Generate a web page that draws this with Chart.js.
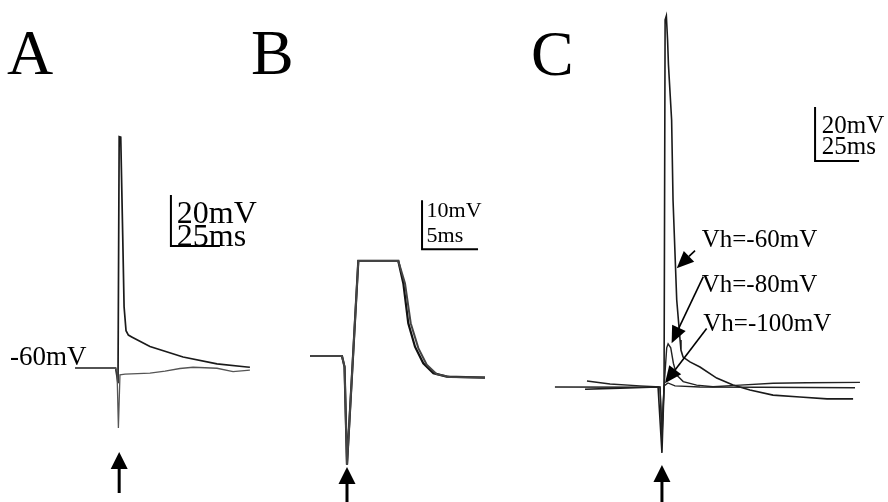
<!DOCTYPE html>
<html>
<head>
<meta charset="utf-8">
<title>Evoked responses</title>
<script src="https://cdn.jsdelivr.net/npm/chart.js@4.4.1/dist/chart.umd.min.js"></script>
<style>
  body { margin: 0; background: #fff; }
  #wrap { width: 888px; height: 502px; }
</style>
</head>
<body>
<div id="wrap"><canvas id="traces" width="888" height="502"></canvas></div>
<script>
// Panel A: holding -60 mV, one sweep with a spike, one without (time ms, voltage mV)
const aSpikeT = [-21.9, -1.2, -0.6, 0.0, 0.6, 1.4, 2.4, 3.1, 4.1, 5.3, 7.0, 16.3, 33.2, 50.5, 65.8, 67.3];
const aSpikeV = [-60, -60, -63, -66, 30.7, 30.5, -7.8, -36.0, -45.4, -47.1, -47.8, -51.6, -55.7, -58.4, -59.6, -59.7];
const aFailT = [-21.9, -1.5, -0.5, 0.2, 1.0, 3.6, 16.3, 24.0, 31.6, 38.3, 50.5, 58.7, 67.3];
const aFailV = [-60, -60, -61, -83.5, -62.7, -62.4, -62.0, -61.2, -60.2, -59.7, -60.1, -61.4, -60.8];

// Panel B: two superimposed sweeps, fast time base
const bFirstT = [-3.30, -0.45, -0.22, 0.0, 1.01, 4.58, 5.03, 5.47, 6.07, 6.81, 7.71, 8.90, 12.32];
const bFirstV = [-60, -60, -62.2, -82.2, -40.6, -40.6, -45.2, -53.3, -58.1, -61.5, -63.5, -64.2, -64.4];
const bSecondT = [-3.30, -0.45, -0.22, 0.0, 1.01, 4.58, 5.18, 5.69, 6.37, 7.12, 8.01, 9.20, 12.32];
const bSecondV = [-60, -60, -62.2, -82.2, -40.6, -40.6, -45.2, -53.3, -58.4, -61.8, -63.7, -64.3, -64.4];

// Panel C: change from holding potential at three Vh values
const c60T = [-44.3, -24.4, -2.8, -0.6, 0.6, 1.2, 1.9, 2.6, 3.1, 4.9, 5.7, 7.8, 9.7, 10.2, 11.4, 15.3, 21.0, 30.5, 39.8, 49.4, 62.5, 77.8, 93.2, 108.0];
const c60V = [-0.85, -0.4, 0, -24.4, 0, 136.0, 137.5, 128.5, 119.3, 98.9, 69.3, 32.2, 17.4, 13.7, 11.1, 9.3, 7.4, 3.3, 0.7, -1.1, -3.0, -3.7, -4.4, -4.4];
const c80T = [-43.2, -30.1, -13.1, -1.7, -0.6, 0.6, 2.1, 2.9, 4.4, 5.9, 7.8, 11.5, 19.1, 28.4, 43.8, 62.5, 81.6, 111.9];
const c80V = [2.2, 1.1, 0.4, 0, -19.6, 0, 14.5, 16.0, 14.5, 8.8, 4.4, 2.0, 0.7, 0.1, 0.7, 1.4, 1.6, 1.7];
const c100T = [-61.4, -1.7, -0.6, 0.6, 2.8, 6.8, 21.0, 55.1, 109.1];
const c100V = [0, -0.1, -15.9, 0.4, 1.5, 0.4, 0, -0.1, -0.3];

const cLabels = ['Vh=-60mV', 'Vh=-80mV', 'Vh=-100mV'];

function pts(ts, vs) {
  return ts.map((t, i) => ({ x: t, y: vs[i] }));
}

// place a hidden axis so that `value` lands on pixel `px` with `ppu` pixels per unit
function xFrame(px, value, ppu) {
  const min = value - px / ppu;
  return { type: 'linear', display: false, min: min, max: min + 888 / ppu };
}
function yFrame(px, value, ppu) {
  const max = value + px / ppu;
  return { type: 'linear', display: false, min: max - 502 / ppu, max: max };
}

function trace(data, x, y, color, width) {
  return {
    data: data, xAxisID: x, yAxisID: y,
    borderColor: color, borderWidth: width,
    pointRadius: 0, tension: 0, fill: false
  };
}

function arrow(ctx, x1, y1, x2, y2, head, half, lw) {
  const ang = Math.atan2(y2 - y1, x2 - x1);
  const bx = x2 - head * Math.cos(ang), by = y2 - head * Math.sin(ang);
  ctx.lineWidth = lw;
  ctx.beginPath();
  ctx.moveTo(x1, y1);
  ctx.lineTo(bx, by);
  ctx.stroke();
  ctx.beginPath();
  ctx.moveTo(x2, y2);
  ctx.lineTo(bx + half * Math.sin(ang), by - half * Math.cos(ang));
  ctx.lineTo(bx - half * Math.sin(ang), by + half * Math.cos(ang));
  ctx.closePath();
  ctx.fill();
}

const serif = '"Liberation Serif", "Times New Roman", serif';

const panelDecor = {
  id: 'panelDecor',
  afterDatasetsDraw(chart) {
    const ctx = chart.ctx;
    const s = chart.scales;
    ctx.save();
    ctx.fillStyle = '#000';
    ctx.strokeStyle = '#000';
    ctx.textBaseline = 'alphabetic';

    // panel letters
    ctx.font = '64px ' + serif;
    ctx.fillText('A', 7, 74);
    ctx.fillText('B', 251, 74);
    ctx.fillText('C', 531, 75);

    // scale bars
    const bars = [
      { x: 'xA', y: 'yA', t: 27, v: -12.2, dt: 25, dv: 20, mv: '20mV', ms: '25ms', lt: 30, lv1: -3.1, lv2: -12.2, size: 32 },
      { x: 'xB', y: 'yB', t: 6.7, v: -38.2, dt: 5, dv: 10, mv: '10mV', ms: '5ms', lt: 7.1, lv1: -31.6, lv2: -36.7, size: 22 },
      { x: 'xC', y: 'yC', t: 86.4, v: 83.7, dt: 25, dv: 20, mv: '20mV', ms: '25ms', lt: 90.2, lv1: 94.0, lv2: 86.3, size: 25 }
    ];
    bars.forEach(b => {
      const sx = s[b.x], sy = s[b.y];
      const x0 = sx.getPixelForValue(b.t), y0 = sy.getPixelForValue(b.v);
      ctx.lineWidth = 2;
      ctx.beginPath();
      ctx.moveTo(x0, sy.getPixelForValue(b.v + b.dv));
      ctx.lineTo(x0, y0);
      ctx.lineTo(sx.getPixelForValue(b.t + b.dt), y0);
      ctx.stroke();
      ctx.font = b.size + 'px ' + serif;
      ctx.fillText(b.mv, sx.getPixelForValue(b.lt), sy.getPixelForValue(b.lv1));
      ctx.fillText(b.ms, sx.getPixelForValue(b.lt), sy.getPixelForValue(b.lv2));
    });

    // holding potential label in A
    ctx.font = '27px ' + serif;
    ctx.fillText('-60mV', s.xA.getPixelForValue(-55.1), s.yA.getPixelForValue(-58.8));

    // Vh labels and pointers in C
    const notes = [
      { tx: 22.0, tv: 52.0, fromT: 18.2, fromV: 50.5, toT: 7.8, toV: 44.0 },
      { tx: 22.0, tv: 35.3, fromT: 22.9, fromV: 40.9, toT: 4.9, toV: 16.2 },
      { tx: 22.9, tv: 20.7, fromT: 24.8, fromV: 21.7, toT: 1.1, toV: 1.4 }
    ];
    ctx.font = '25px ' + serif;
    notes.forEach((n, i) => {
      ctx.fillText(cLabels[i], s.xC.getPixelForValue(n.tx), s.yC.getPixelForValue(n.tv));
      arrow(ctx, s.xC.getPixelForValue(n.fromT), s.yC.getPixelForValue(n.fromV),
            s.xC.getPixelForValue(n.toT), s.yC.getPixelForValue(n.toV), 17, 7.5, 1.6);
    });

    // stimulus arrows under each panel
    [['xA', 0.6, 452, 493], ['xB', 0, 467, 502], ['xC', -0.6, 465, 502]].forEach(a => {
      const x = s[a[0]].getPixelForValue(a[1]);
      arrow(ctx, x, a[3], x, a[2], 17, 8.5, 3);
    });
    ctx.restore();
  }
};

new Chart(document.getElementById('traces'), {
  type: 'line',
  data: {
    datasets: [
      trace(pts(aFailT, aFailV), 'xA', 'yA', '#555', 1.3),
      trace(pts(aSpikeT, aSpikeV), 'xA', 'yA', '#1a1a1a', 1.7),
      trace(pts(bSecondT, bSecondV), 'xB', 'yB', '#444', 2.0),
      trace(pts(bFirstT, bFirstV), 'xB', 'yB', '#111', 2.2),
      trace(pts(c100T, c100V), 'xC', 'yC', '#222', 1.4),
      trace(pts(c80T, c80V), 'xC', 'yC', '#222', 1.4),
      trace(pts(c60T, c60V), 'xC', 'yC', '#1a1a1a', 1.6)
    ]
  },
  options: {
    responsive: false,
    animation: false,
    devicePixelRatio: 1,
    layout: { padding: 0 },
    plugins: { legend: { display: false }, tooltip: { enabled: false } },
    scales: {
      xA: xFrame(118, 0, 1.96),
      yA: yFrame(368, -60, 2.55),
      xB: xFrame(347, 0, 11.2),
      yB: yFrame(356, -60, 4.9),
      xC: xFrame(663, 0, 1.76),
      yC: yFrame(387, 0, 2.7)
    }
  },
  plugins: [panelDecor]
});
</script>
</body>
</html>
